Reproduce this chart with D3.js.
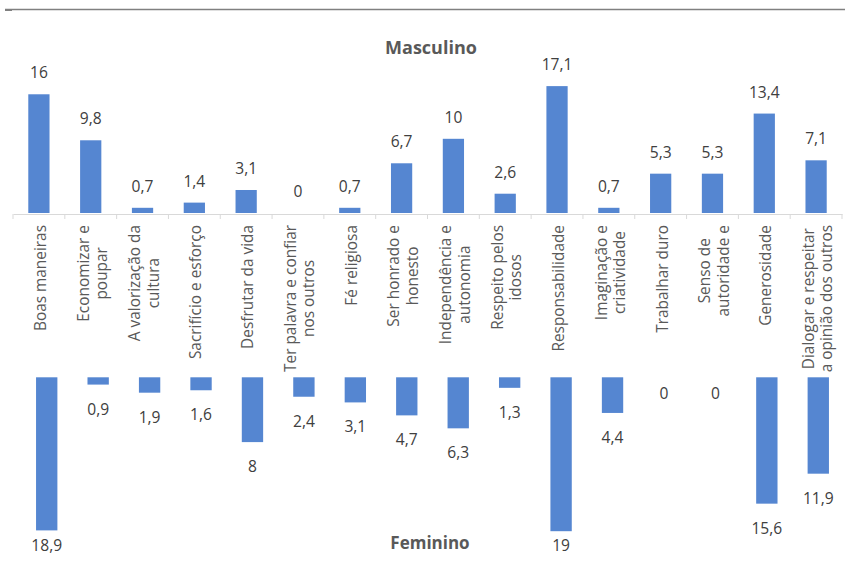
<!DOCTYPE html>
<html>
<head>
<meta charset="utf-8">
<script src="https://cdn.jsdelivr.net/npm/d3@7"></script>
<style>
  html, body { margin: 0; padding: 0; background: #fff; }
  svg { display: block; }
  text { font-family: "Open Sans", "Noto Sans", sans-serif; }
</style>
</head>
<body>
<svg id="chart" width="845" height="568"></svg>
<script>
const categories = [
  ["Boas maneiras"],
  ["Economizar e", "poupar"],
  ["A valorização da", "cultura"],
  ["Sacrifício e esforço"],
  ["Desfrutar da vida"],
  ["Ter palavra e confiar", "nos outros"],
  ["Fé religiosa"],
  ["Ser honrado e", "honesto"],
  ["Independência e", "autonomia"],
  ["Respeito pelos", "idosos"],
  ["Responsabilidade"],
  ["Imaginação e", "criatividade"],
  ["Trabalhar duro"],
  ["Senso de", "autoridade e"],
  ["Generosidade"],
  ["Dialogar e respeitar", "a opinião dos outros"]
];
const masculino = [16, 9.8, 0.7, 1.4, 3.1, 0, 0.7, 6.7, 10, 2.6, 17.1, 0.7, 5.3, 5.3, 13.4, 7.1];
const feminino  = [18.9, 0.9, 1.9, 1.6, 8, 2.4, 3.1, 4.7, 6.3, 1.3, 19, 4.4, 0, 0, 15.6, 11.9];
const titleTop = "Masculino";
const titleBottom = "Feminino";

const BAR = "#5586d1";
const svg = d3.select("#chart");
const idx = d3.range(categories.length);
const fmt = v => String(v).replace(".", ",");

// top rule
svg.append("line").attr("x1", 5).attr("x2", 845).attr("y1", 9.5).attr("y2", 9.5)
  .attr("stroke", "#808080").attr("stroke-width", 1.3);
svg.append("rect").attr("x", 5).attr("y", 9).attr("width", 7).attr("height", 2).attr("fill", "#808080");

// ---------- Top chart (Masculino) ----------
const xTop = d3.scaleBand().domain(idx).range([13, 842]).paddingInner(0.59).paddingOuter(0.295);
const yTop = d3.scaleLinear().domain([0, 18]).range([213, 213 - 18 * 7.42]);

svg.append("text").attr("x", 431).attr("y", 54).attr("text-anchor", "middle")
  .attr("font-size", 18).attr("font-weight", 700).attr("fill", "#595959").text(titleTop);

svg.append("g").selectAll("rect").data(idx).join("rect")
  .attr("x", i => xTop(i)).attr("width", xTop.bandwidth())
  .attr("y", i => yTop(masculino[i])).attr("height", i => yTop(0) - yTop(masculino[i]))
  .attr("fill", BAR);

svg.append("g").selectAll("text").data(idx).join("text")
  .attr("x", i => xTop(i) + xTop.bandwidth() / 2)
  .attr("y", i => yTop(masculino[i]) - 16)
  .attr("text-anchor", "middle").attr("font-size", 15.6)
  .attr("fill", "#404040")
  .text(i => fmt(masculino[i]));

// axis with category labels
const xAxisScale = d3.scaleBand().domain(idx).range([13, 842]);
const axisG = svg.append("g").attr("transform", "translate(0,214)")
  .call(d3.axisBottom(xAxisScale).tickSize(0).tickFormat(""));
axisG.select(".domain").attr("stroke", "#d9d9d9").attr("stroke-width", 1);
axisG.selectAll(".tick").remove();
const bounds = d3.range(categories.length + 1).map(i => 13 + i * xAxisScale.step());
axisG.selectAll("line.tk").data(bounds).join("line").attr("class", "tk")
  .attr("x1", d => d).attr("x2", d => d).attr("y1", 0).attr("y2", 5)
  .attr("stroke", "#d9d9d9");

const labG = svg.append("g");
idx.forEach(i => {
  const lines = categories[i];
  const cx = xAxisScale(i) + xAxisScale.step() / 2;
  const g = labG.append("g");
  const texts = lines.map((ln, j) => g.append("text")
    .attr("font-size", 15.4)
    .attr("fill", "#595959").attr("text-anchor", "middle").text(ln));
  const maxLen = d3.max(texts, t => t.node().getComputedTextLength());
  const n = lines.length;
  texts.forEach((t, j) => {
    const bx = cx + 7 + (j - (n - 1) / 2) * 18.3;
    const by = 225 + maxLen / 2;
    t.attr("transform", `translate(${bx},${by}) rotate(-90)`);
  });
});

// ---------- Bottom chart (Feminino) ----------
const xBot = d3.scaleBand().domain(idx).range([21, 844]).paddingInner(0.585).paddingOuter(0.2925);
const yBot = d3.scaleLinear().domain([0, 20]).range([377.3, 377.3 + 20 * 8.1]);

svg.append("g").selectAll("rect").data(idx).join("rect")
  .attr("x", i => xBot(i)).attr("width", xBot.bandwidth())
  .attr("y", yBot(0)).attr("height", i => yBot(feminino[i]) - yBot(0))
  .attr("fill", BAR);

svg.append("g").selectAll("text").data(idx).join("text")
  .attr("x", i => xBot(i) + xBot.bandwidth() / 2)
  .attr("y", i => Math.min(yBot(feminino[i]) + (feminino[i] === 0 ? 21.5 : 30), 551))
  .attr("text-anchor", "middle").attr("font-size", 15.6)
  .attr("fill", "#404040")
  .text(i => fmt(feminino[i]));

svg.append("text").attr("x", 430).attr("y", 548.5).attr("text-anchor", "middle")
  .attr("font-size", 17).attr("font-weight", 700).attr("fill", "#595959").text(titleBottom);
</script>
</body>
</html>
